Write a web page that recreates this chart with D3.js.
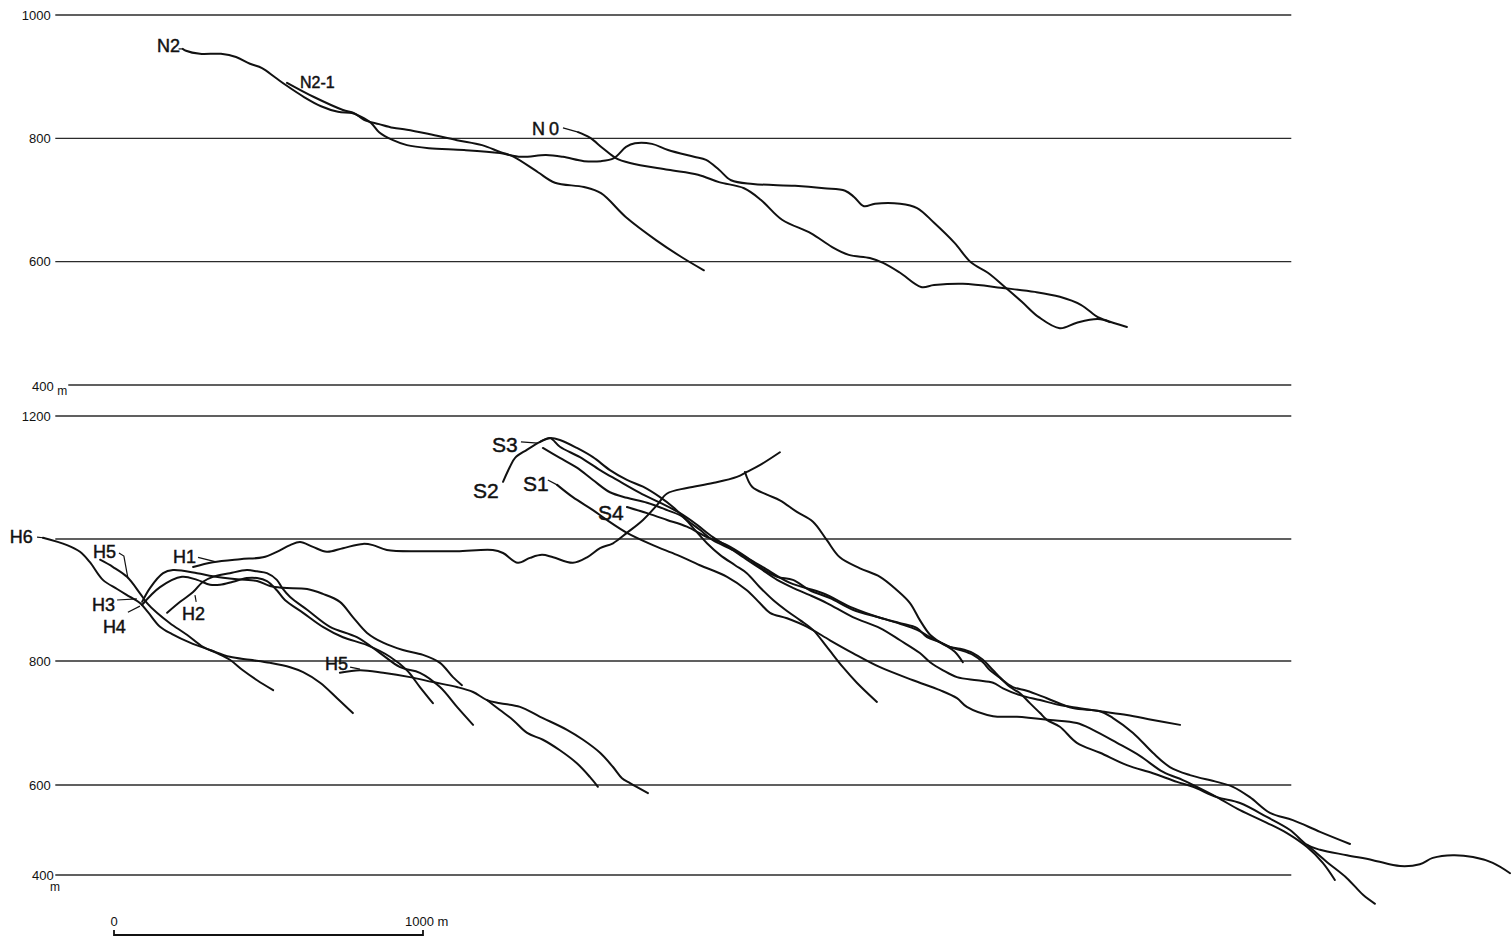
<!DOCTYPE html>
<meta charset="utf-8">
<html>
<head>
<script src="https://d3js.org/d3.v7.min.js"></script>
<style>
  body { margin: 0; background: #fff; }
  svg { display: block; font-family: "Liberation Sans", Arial, sans-serif; }
  .grid { stroke: #2b2b2b; stroke-width: 1.3; }
  .tick-label { font-size: 13px; fill: #111; }
  .unit { font-size: 12px; fill: #111; }
  .profile { fill: none; stroke: #111; stroke-width: 2; stroke-linejoin: round; stroke-linecap: round; }
  .leader { fill: none; stroke: #111; stroke-width: 1.2; }
  .lab { fill: #111; stroke: #111; stroke-width: 0.45; }
  .lab-n { font-size: 18px; }
  .lab-h { font-size: 18px; }
  .lab-s { font-size: 21px; }
</style>
</head>
<body>
<svg id="chart" width="1511" height="942"></svg>
<script>
// elevation grid (m)
var topTicks = [1000, 800, 600, 400];
var topTickLabels = ["1000", "800", "600", "400"];
var botTicks = [1200, 1000, 800, 600, 400];
var botTickLabels = ["1200", "", "800", "600", "400"];

// profiles: [distance m, elevation m]
var N2 = [[223,945],[233,942],[278,937],[346,937],[395,932],[440,921],[479,914],[521,899],[557,886],[615,867],[670,852],[725,843],[770,841],[799,835],[832,825],[858,810],[903,797],[948,789],[1019,784],[1133,781],[1249,776],[1317,770],[1398,773],[1453,770],[1521,763],[1576,763],[1618,768],[1657,786],[1686,792],[1741,791],[1793,781],[1877,770],[1916,765],[1958,749],[1997,732],[2068,726],[2204,723],[2298,719],[2366,715],[2395,705],[2427,690],[2463,694],[2544,694],[2599,687],[2654,663],[2721,630],[2773,599],[2828,582],[2883,559],[2938,535],[2993,510],[3061,492],[3116,501],[3184,507],[3223,502]];
var N2_1 = [[560,890],[647,867],[741,846],[777,841],[809,830],[858,823],[903,817],[948,814],[1019,807],[1110,797],[1191,789],[1249,778],[1294,770],[1372,745],[1427,728],[1521,721],[1576,711],[1657,672],[1754,635],[1835,608],[1909,586]];
var N0 = [[1502,810],[1540,801],[1582,784],[1624,768],[1670,760],[1793,749],[1890,741],[1958,729],[2039,719],[2094,700],[2162,668],[2256,646],[2323,624],[2378,611],[2446,606],[2489,598],[2544,582],[2612,559],[2654,562],[2747,564],[2883,557],[2980,551],[3061,543],[3129,530],[3184,510],[3210,505],[3278,494]];

var H6 = [[-230,1002],[-152,990],[-110,979],[-78,962],[-36,933],[10,918],[52,905],[84,895],[110,880],[149,856],[188,844],[246,830],[311,818],[375,807],[440,802],[505,797],[570,790],[612,782],[667,765],[722,740],[773,716]];
var H5 = [[-45,966],[-3,954],[42,938],[84,911],[107,895],[139,879],[181,862],[236,843],[288,823],[333,813],[375,802],[417,785],[463,769],[515,753]];
var H3 = [[91,897],[117,920],[159,944],[191,949],[269,944],[320,939],[398,934],[463,931],[505,923],[547,920],[625,918],[676,910],[731,897],[773,872],[819,846],[871,830],[935,818],[1000,810],[1055,797],[1097,774],[1126,761]];
var H4 = [[91,892],[149,921],[220,938],[269,933],[311,925],[343,925],[385,930],[430,936],[463,936],[495,931],[527,916],[553,900],[612,879],[676,856],[741,839],[819,826],[893,807],[948,785],[990,758],[1032,732]];
var H2 = [[172,879],[214,897],[256,913],[288,930],[320,938],[375,944],[430,949],[463,947],[495,944],[527,933],[544,920],[570,905],[625,884],[699,856],[786,839],[861,813],[926,790],[990,781],[1055,758],[1110,726],[1162,697]];
var H5b = [[731,781],[796,785],[871,781],[958,774],[1032,766],[1110,758],[1162,750],[1207,737],[1249,732],[1314,726],[1379,710],[1466,689],[1518,673],[1573,652],[1615,629],[1644,611],[1670,603],[1728,582]];
var H5c = [[1207,737],[1249,721],[1291,705],[1337,684],[1388,673],[1443,656],[1498,635],[1540,613],[1566,596]];
var H1 = [[256,954],[320,962],[408,967],[482,970],[527,979],[570,990],[602,995],[644,987],[689,979],[741,985],[806,992],[838,990],[883,982],[1000,980],[1110,980],[1226,982],[1259,977],[1307,961],[1346,969],[1385,974],[1421,970],[1485,961],[1531,970],[1573,985],[1615,993],[1660,1010],[1712,1031],[1757,1055],[1790,1074],[1854,1083],[1938,1091],[2016,1101],[2048,1109],[2090,1120],[2155,1141]];
var H1b = [[2042,1109],[2065,1085],[2113,1072],[2155,1063],[2210,1044],[2262,1028],[2307,998],[2349,970],[2414,952],[2479,938],[2534,916],[2576,895],[2608,867],[2641,843],[2673,831],[2705,823],[2738,820],[2780,813],[2812,802],[2845,785],[2877,769],[2909,758],[2954,752],[3019,740],[3103,724],[3191,719],[3233,708],[3298,684],[3362,652],[3417,629],[3482,616],[3569,605],[3621,596],[3676,573],[3741,538],[3815,522],[3903,496],[4000,469]];

var S1 = [[1434,1088],[1485,1068],[1550,1047],[1595,1031],[1660,1010],[1744,990],[1822,974],[1896,957],[1984,938],[2048,916],[2090,895],[2123,879],[2178,870],[2243,856],[2317,834],[2391,813],[2479,790],[2586,769],[2673,753],[2728,740],[2760,726],[2845,711],[2922,710],[3029,705],[3116,700],[3168,689],[3246,668],[3320,647],[3395,621],[3459,608],[3492,600],[3569,573],[3644,544],[3731,516],[3796,493],[3861,462],[3912,427],[3951,389]];
var S2 = [[1259,1093],[1281,1117],[1298,1132],[1336,1145],[1379,1158],[1411,1164],[1443,1150],[1508,1133],[1573,1112],[1628,1096],[1702,1075],[1767,1059],[1832,1042],[1887,1023],[1938,1003],[1993,985],[2048,966],[2090,952],[2146,933],[2197,920],[2252,908],[2307,895],[2391,872],[2479,854],[2544,834],[2608,813],[2641,798],[2683,785],[2728,774],[2793,769],[2845,765],[2877,756],[2932,745],[2997,737],[3061,729],[3126,724],[3191,719],[3278,713],[3362,705],[3450,697]];
var S2b = [[1388,1148],[1443,1132],[1498,1116],[1550,1096],[1605,1076],[1660,1067],[1725,1059],[1790,1047],[1841,1036],[1874,1018],[1919,993],[1961,974],[2010,957],[2048,944],[2090,921],[2133,900],[2178,882],[2220,867],[2262,851],[2307,823],[2359,790],[2404,765],[2469,734]];
var S3 = [[1379,1158],[1411,1164],[1443,1161],[1498,1148],[1550,1133],[1605,1112],[1660,1096],[1712,1085],[1767,1068],[1809,1052],[1854,1031],[1896,1015],[1938,998],[2003,982],[2058,966],[2100,954],[2188,928],[2294,911],[2391,887],[2479,871],[2544,862],[2599,854],[2631,839],[2673,831],[2705,823],[2738,818],[2780,810],[2812,798],[2835,785],[2867,773],[2900,758],[2932,748],[2964,732],[2997,716],[3019,705],[3061,694],[3116,668],[3191,652],[3278,632],[3362,619],[3440,605],[3492,596],[3569,573],[3644,560],[3731,529],[3806,500],[3861,467],[3903,456],[3990,444],[4074,433],[4162,420],[4226,424],[4268,438],[4333,444],[4398,440],[4462,427],[4518,404]];
var S3b = [[3861,467],[3925,429],[3990,393],[4042,356],[4081,336]];
var S4 = [[1660,1052],[1725,1042],[1790,1031],[1854,1020],[1919,1003],[1984,990],[2048,970],[2090,954],[2146,938],[2197,933],[2252,916],[2317,903],[2391,884],[2479,871],[2544,861],[2599,851],[2641,839],[2689,826],[2721,815],[2747,798]];

var topSeries = [N2, N2_1, N0];
var botSeries = [H6, H5, H3, H4, H2, H5b, H5c, H1, H1b, S1, S2, S2b, S3, S3b, S4];

// labels: [text, distance m, elevation m, class, anchor]
var topLabels = [["N2", 214, 940, "lab-n", "end"], ["N2-1", 602, 882, "lab-n", "start"], ["N0", 1353, 805, "lab-n", "start"]];
var topLeaders = [[[1453,817],[1502,810]], [[209,945],[223,945]]];
var botLabels = [
  ["H6", -337, 993, "lab-h"], ["H5", -68, 969, "lab-h"], ["H1", 191, 961, "lab-h"],
  ["H3", -71, 882, "lab-h"], ["H4", -36, 846, "lab-h"], ["H2", 220, 867, "lab-h"],
  ["H5", 683, 785, "lab-h"],
  ["S3", 1223, 1141, "lab-s"], ["S2", 1162, 1067, "lab-s"], ["S1", 1324, 1078, "lab-s"], ["S4", 1566, 1031, "lab-s"]
];
var botLeaders = [
  [[-249,1003],[-230,1002]], [[16,977],[32,972],[45,936]], [[272,970],[327,963]],
  [[10,900],[74,902]], [[45,880],[84,890]], [[262,908],[266,897]],
  [[764,790],[796,787]], [[1317,1158],[1372,1156]], [[1404,1096],[1434,1088]]
];

var svg = d3.select("#chart");
var x = d3.scaleLinear().domain([0, 1000]).range([114, 423]);
var yTop = d3.scaleLinear().domain([400, 1000]).range([385, 15]);
var yBot = d3.scaleLinear().domain([400, 600, 800, 1000, 1200]).range([875, 785, 661, 539, 416]);

function drawPanel(y, ticks, tickLabels, series, labels, leaders, isTop) {
  var g = svg.append("g");

  // grid lines
  g.selectAll("line.grid").data(ticks).enter().append("line")
    .attr("class", "grid")
    .attr("x1", function (d) { return (isTop && d == 400) ? x(-148) : x(-190); })
    .attr("x2", x(3810))
    .attr("y1", function (d) { return y(d); })
    .attr("y2", function (d) { return y(d); });

  g.selectAll("text.tick-label").data(ticks).enter().append("text")
    .attr("class", "tick-label")
    .attr("text-anchor", "end")
    .attr("x", function (d) { return (d == 400) ? x(-195) : x(-205); })
    .attr("y", function (d) { return y(d) + ((isTop && d == 400) ? 6 : 4.5); })
    .text(function (d, i) { return tickLabels[i]; });

  // unit "m" next to the lowest line
  if (isTop) {
    g.append("text").attr("class", "unit").attr("x", x(-184)).attr("y", y(400) + 10).text("m");
  } else {
    g.append("text").attr("class", "unit").attr("x", x(-207)).attr("y", y(400) + 16).text("m");
  }

  var line = d3.line()
    .x(function (d) { return x(d[0]); })
    .y(function (d) { return y(d[1]); })
    .curve(d3.curveCatmullRom.alpha(0.5));

  g.selectAll("path.profile").data(series).enter().append("path")
    .attr("class", "profile")
    .attr("d", line);

  var lead = d3.line()
    .x(function (d) { return x(d[0]); })
    .y(function (d) { return y(d[1]); });

  g.selectAll("path.leader").data(leaders).enter().append("path")
    .attr("class", "leader")
    .attr("d", lead);

  g.selectAll("text.lab").data(labels).enter().append("text")
    .attr("class", function (d) { return "lab " + d[3]; })
    .attr("text-anchor", function (d) { return d[4] || "start"; })
    .attr("x", function (d) { return x(d[1]); })
    .attr("y", function (d) { return y(d[2]); })
    .style("letter-spacing", function (d) { return d[0] == "N0" ? "4px" : null; })
    .style("font-size", function (d) { return d[0] == "N2-1" ? "16px" : null; })
    .text(function (d) { return d[0]; });
}

drawPanel(yTop, topTicks, topTickLabels, topSeries, topLabels, topLeaders, true);
drawPanel(yBot, botTicks, botTickLabels, botSeries, botLabels, botLeaders, false);

// scale bar 0 - 1000 m
var bar = svg.append("g");
var barY = 935;
bar.append("path")
  .attr("class", "leader")
  .style("stroke-width", 1.8)
  .attr("d", "M" + x(0) + "," + (barY - 5) + "V" + barY + "H" + x(1000) + "V" + (barY - 5));
bar.append("text").attr("class", "tick-label").attr("text-anchor", "middle")
  .attr("x", x(0)).attr("y", barY - 9).text("0");
bar.append("text").attr("class", "tick-label")
  .attr("x", x(1000) - 18).attr("y", barY - 9).text("1000 m");
</script>
</body>
</html>
